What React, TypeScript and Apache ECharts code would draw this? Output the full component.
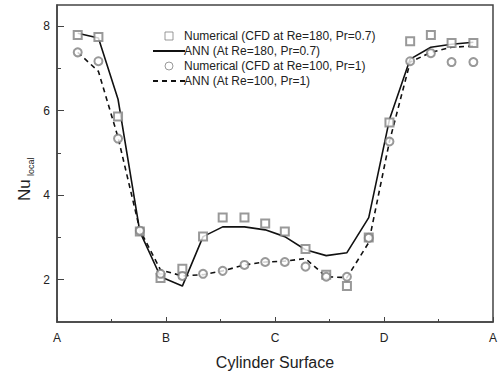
import React, { useEffect, useRef } from "react";
import * as echarts from "echarts";

const xPos = [0.19, 0.38, 0.56, 0.76, 0.95, 1.15, 1.34, 1.52, 1.72, 1.91, 2.09, 2.28, 2.47, 2.66, 2.86, 3.05, 3.24, 3.43, 3.62, 3.82];
const cfd180 = [7.79, 7.74, 5.86, 3.14, 2.04, 2.26, 3.02, 3.47, 3.47, 3.33, 3.14, 2.73, 2.12, 1.85, 3.0, 5.72, 7.64, 7.79, 7.6, 7.6];
const ann180 = [7.83, 7.72, 6.27, 3.14, 2.07, 1.85, 3.02, 3.25, 3.25, 3.18, 3.02, 2.71, 2.57, 2.64, 3.47, 5.79, 7.22, 7.5, 7.57, 7.62];
const cfd100 = [7.38, 7.17, 5.34, 3.16, 2.14, 2.09, 2.14, 2.21, 2.35, 2.42, 2.42, 2.31, 2.07, 2.07, 2.99, 5.27, 7.17, 7.36, 7.15, 7.15];
const ann100 = [7.38, 6.93, 5.37, 3.18, 2.23, 2.09, 2.12, 2.21, 2.35, 2.42, 2.44, 2.5, 2.07, 2.05, 2.88, 5.27, 7.15, 7.38, 7.5, 7.53];
const xTickLabels = ["A", "B", "C", "D", "A"];
const yMajor = [2, 4, 6, 8];
const yMinor = [3, 5, 7];
const seriesNames = [
  "Numerical (CFD at Re=180, Pr=0.7)",
  "ANN (At Re=180, Pr=0.7)",
  "Numerical (CFD at Re=100, Pr=1)",
  "ANN (At Re=100, Pr=1)",
];

const pair = (ys: number[]) => ys.map((y, i) => [xPos[i], y]);

const markerGray = "#808080";
const squareIcon = "path://M0,0H10V10H0Z";
const circleIcon = "path://M5,0A5,5 0 1,1 5,10A5,5 0 1,1 5,0Z";

export default function App() {
  const ref = useRef<HTMLDivElement>(null);
  useEffect(() => {
    if (!ref.current) return;
    const chart = echarts.init(ref.current, null, { renderer: "svg" });
    const font = "Liberation Sans, Arial, sans-serif";
    const axisColor = "#444";
    chart.setOption({
      animation: false,
      backgroundColor: "#fff",
      textStyle: { fontFamily: font },
      grid: {
        left: 57, right: 3, top: 5, bottom: 56,
        show: true, borderColor: axisColor, borderWidth: 1.5, backgroundColor: "transparent",
      },
      legend: {
        orient: "vertical",
        left: 147,
        top: 25,
        itemWidth: 32,
        itemHeight: 8,
        itemGap: 3,
        symbolKeepAspect: true,
        textStyle: { fontSize: 12, lineHeight: 12, color: "#222", fontFamily: font, padding: [0, 0, 0, -6] },
        data: [
          { name: seriesNames[0], icon: squareIcon, itemStyle: { color: "transparent", borderColor: markerGray, borderWidth: 1 } },
          { name: seriesNames[1], itemStyle: { opacity: 0 } },
          { name: seriesNames[2], icon: circleIcon, itemStyle: { color: "transparent", borderColor: markerGray, borderWidth: 1 } },
          { name: seriesNames[3], itemStyle: { opacity: 0 } },
        ],
      },
      xAxis: {
        type: "value",
        min: 0,
        max: 4,
        interval: 1,
        name: "Cylinder Surface",
        nameLocation: "middle",
        nameGap: 32,
        nameTextStyle: { fontSize: 16, color: "#222", fontFamily: font },
        axisLine: { lineStyle: { color: axisColor, width: 1.5 } },
        axisTick: { inside: true, length: 5, lineStyle: { color: axisColor } },
        minorTick: { show: true, splitNumber: 2, length: 3, lineStyle: { color: axisColor } },
        splitLine: { show: false },
        axisLabel: {
          fontSize: 12, color: "#222", margin: 10,
          formatter: (v: number) => xTickLabels[Math.round(v)] ?? "",
        },
      },
      yAxis: [
        {
          type: "value",
          min: 1,
          max: 8.5,
          axisLine: { show: true, lineStyle: { color: axisColor, width: 1.5 } },
          axisTick: { show: true, inside: true, length: 7, customValues: yMajor, lineStyle: { color: axisColor } },
          splitLine: { show: false },
          axisLabel: { fontSize: 12, color: "#222", margin: 7, customValues: yMajor },
        },
        {
          type: "value",
          min: 1,
          max: 8.5,
          position: "left",
          axisLine: { show: false },
          axisTick: { show: true, inside: true, length: 4, customValues: yMinor, lineStyle: { color: axisColor } },
          splitLine: { show: false },
          axisLabel: { show: false },
        },
      ],
      graphic: [
        {
          type: "group",
          x: 24,
          y: 201,
          rotation: Math.PI / 2,
          children: [
            { type: "text", x: 0, y: 0, style: { text: "Nu", font: `17px ${font}`, fill: "#222", textAlign: "left", textVerticalAlign: "middle" } },
            { type: "text", x: 25, y: 7, style: { text: "local", font: `9px ${font}`, fill: "#222", textAlign: "left", textVerticalAlign: "middle" } },
          ],
        },
      ],
      series: [
        {
          name: seriesNames[0],
          type: "scatter",
          symbol: "emptyRect",
          symbolSize: 8,
          itemStyle: { color: markerGray, borderWidth: 1 },
          data: pair(cfd180),
          z: 3,
        },
        {
          name: seriesNames[1],
          type: "line",
          symbol: "none",
          lineStyle: { color: "#111", width: 1.6 },
          itemStyle: { color: "#111" },
          data: pair(ann180),
          z: 2,
        },
        {
          name: seriesNames[2],
          type: "scatter",
          symbol: "emptyCircle",
          symbolSize: 8,
          itemStyle: { color: markerGray, borderWidth: 1 },
          data: pair(cfd100),
          z: 3,
        },
        {
          name: seriesNames[3],
          type: "line",
          symbol: "none",
          lineStyle: { color: "#111", width: 1.6, type: [5, 4] },
          itemStyle: { color: "#111" },
          data: pair(ann100),
          z: 2,
        },
      ],
    });
    return () => chart.dispose();
  }, []);
  return <div ref={ref} style={{ width: 500, height: 378, position: "absolute", left: 0, top: 0 }} />;
}
